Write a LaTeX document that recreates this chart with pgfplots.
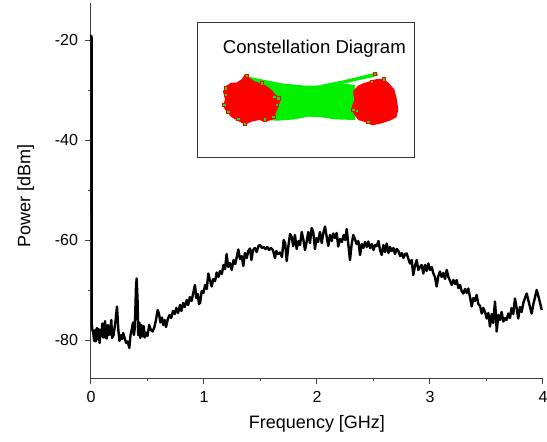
\documentclass[border=0pt]{standalone}
\usepackage{fontspec}
\setmainfont{Liberation Sans}
\usepackage{pgfplots}
\pgfplotsset{compat=1.18}
\definecolor{cgreen}{RGB}{0,240,0}
\definecolor{cred}{RGB}{255,0,0}

\pgfplotstableread{
x y
0.000 -19.0
0.005 -19.5
0.007 -77.0
0.012 -78.0
0.020 -78.5
0.028 -80.2
0.036 -78.0
0.044 -80.3
0.052 -77.6
0.060 -79.8
0.068 -77.8
0.076 -80.6
0.084 -78.0
0.092 -79.2
0.100 -76.7
0.108 -79.5
0.116 -79.3
0.124 -76.2
0.130 -79.5
0.140 -79.7
0.150 -77.0
0.160 -79.0
0.170 -78.0
0.180 -76.0
0.186 -79.6
0.200 -79.0
0.218 -76.0
0.230 -73.3
0.242 -78.0
0.252 -80.2
0.265 -79.0
0.275 -79.8
0.285 -78.6
0.300 -79.8
0.312 -80.6
0.325 -80.3
0.339 -81.6
0.350 -79.0
0.360 -78.0
0.372 -76.5
0.380 -79.0
0.388 -77.5
0.398 -69.5
0.404 -67.7
0.412 -72.0
0.418 -79.0
0.428 -76.5
0.436 -79.6
0.446 -77.0
0.456 -79.3
0.466 -77.2
0.476 -79.5
0.488 -78.5
0.500 -79.2
0.515 -77.0
0.530 -78.0
0.545 -78.3
0.560 -77.5
0.575 -76.0
0.590 -74.0
0.602 -74.8
0.615 -76.5
0.628 -75.5
0.640 -77.0
0.652 -76.0
0.664 -77.4
0.680 -75.8
0.695 -75.0
0.710 -75.6
0.725 -74.2
0.740 -74.8
0.755 -73.6
0.770 -74.6
0.788 -73.0
0.800 -74.2
0.815 -72.6
0.830 -73.4
0.847 -72.0
0.860 -73.0
0.875 -71.4
0.890 -72.2
0.905 -70.6
0.920 -69.0
0.932 -71.6
0.945 -70.8
0.955 -72.8
0.965 -72.6
0.980 -70.2
0.995 -70.6
1.010 -69.0
1.025 -69.8
1.038 -66.7
1.052 -68.0
1.068 -69.3
1.082 -67.8
1.098 -68.2
1.112 -66.5
1.128 -67.4
1.142 -66.2
1.158 -66.8
1.172 -65.0
1.186 -65.8
1.200 -62.8
1.214 -65.4
1.230 -64.6
1.245 -66.0
1.262 -64.0
1.276 -64.8
1.290 -63.4
1.304 -61.9
1.318 -63.8
1.334 -63.2
1.348 -65.2
1.362 -62.6
1.378 -63.6
1.392 -62.2
1.407 -61.7
1.420 -64.0
1.434 -62.0
1.450 -61.6
1.466 -62.4
1.482 -61.2
1.496 -61.0
1.512 -61.6
1.528 -61.4
1.544 -61.8
1.560 -61.4
1.576 -62.0
1.592 -61.6
1.610 -62.0
1.628 -63.6
1.640 -62.2
1.655 -62.8
1.673 -62.5
1.690 -63.4
1.705 -60.0
1.718 -60.6
1.732 -64.2
1.748 -61.0
1.762 -58.8
1.776 -59.4
1.790 -61.2
1.805 -59.0
1.820 -61.8
1.836 -60.2
1.850 -61.0
1.865 -58.4
1.880 -60.0
1.894 -62.0
1.908 -60.4
1.923 -58.4
1.938 -60.6
1.953 -57.6
1.967 -58.4
1.982 -61.8
1.996 -59.6
2.010 -60.4
2.026 -58.4
2.042 -60.6
2.056 -58.6
2.071 -57.3
2.086 -59.4
2.100 -61.2
2.115 -59.0
2.130 -60.2
2.144 -58.7
2.160 -59.6
2.174 -58.6
2.188 -61.3
2.204 -59.8
2.220 -60.4
2.236 -59.0
2.250 -60.0
2.263 -57.8
2.276 -60.6
2.292 -64.0
2.306 -61.0
2.321 -59.0
2.336 -59.8
2.350 -60.8
2.366 -60.2
2.381 -63.0
2.396 -60.8
2.410 -61.6
2.425 -60.4
2.440 -61.4
2.454 -60.3
2.470 -61.6
2.485 -60.8
2.500 -62.0
2.514 -61.0
2.528 -61.2
2.544 -60.2
2.558 -62.0
2.573 -63.0
2.588 -61.0
2.602 -62.4
2.617 -60.7
2.632 -62.6
2.647 -61.4
2.661 -62.2
2.676 -61.6
2.690 -62.8
2.705 -61.8
2.720 -62.2
2.736 -63.2
2.750 -62.6
2.765 -63.6
2.780 -62.8
2.794 -62.7
2.809 -63.8
2.823 -64.7
2.838 -64.0
2.852 -67.0
2.867 -65.2
2.882 -64.0
2.897 -66.0
2.911 -65.4
2.926 -65.0
2.941 -66.7
2.956 -65.0
2.970 -66.2
2.985 -64.7
3.000 -66.0
3.015 -65.4
3.030 -66.7
3.044 -67.4
3.059 -69.3
3.074 -67.2
3.088 -66.3
3.103 -67.4
3.118 -66.6
3.133 -67.8
3.148 -66.0
3.163 -67.4
3.178 -68.2
3.192 -69.0
3.207 -68.0
3.222 -68.8
3.236 -68.0
3.251 -69.6
3.266 -69.0
3.280 -70.2
3.295 -70.7
3.310 -69.8
3.325 -70.6
3.339 -69.7
3.354 -71.4
3.369 -73.3
3.384 -71.6
3.398 -72.2
3.413 -71.0
3.428 -72.8
3.443 -73.2
3.458 -74.7
3.472 -73.6
3.487 -74.4
3.502 -75.7
3.516 -74.6
3.531 -77.3
3.546 -74.8
3.560 -76.6
3.575 -72.3
3.585 -75.4
3.590 -78.3
3.605 -75.0
3.619 -76.0
3.634 -74.4
3.649 -76.3
3.664 -75.6
3.678 -76.0
3.693 -74.7
3.708 -75.6
3.722 -73.6
3.737 -74.8
3.752 -71.7
3.767 -73.6
3.781 -75.7
3.796 -73.4
3.811 -74.4
3.826 -72.6
3.841 -71.6
3.856 -70.7
3.870 -72.0
3.885 -73.4
3.900 -74.7
3.915 -72.8
3.930 -71.4
3.944 -70.0
3.959 -71.2
3.974 -72.6
3.989 -74.0
}\spectrum

\begin{document}
\begin{tikzpicture}
\useasboundingbox (-45.5pt,-31.5pt) rectangle (228pt,189pt);
\begin{axis}[
  scale only axis,
  width=226pt, height=187.5pt,
  xmin=0, xmax=4, ymin=-87.6, ymax=-12.6,
  axis x line*=bottom, axis y line*=left,
  axis line style={black!75, line width=0.5pt},
  xtick={0,1,2,3,4}, minor x tick num=1,
  ytick={-80,-60,-40,-20}, minor y tick num=1,
  tick align=outside,
  major tick length=3pt, minor tick length=1.6pt,
  tick style={black!75, line width=0.5pt},
  ticklabel style={font=\fontsize{8}{9.6}\selectfont},
  /pgf/number format/assume math mode=true,
  xlabel={Frequency [GHz]},
  ylabel={Power [dBm]},
  label style={font=\fontsize{9}{11}\selectfont},
  x label style={at={(axis description cs:0.5,0)}, anchor=center, yshift=-23pt},
  y label style={at={(axis description cs:0,0.485)}, anchor=center, yshift=32.7pt},
  clip=false,
]
\addplot[black, line width=1.2pt, line join=round] table[x=x, y=y] {\spectrum};
\end{axis}

\begin{axis}[
  at={(53pt,110.5pt)}, anchor=south west,
  scale only axis,
  width=108.5pt, height=67.5pt,
  xmin=6, xmax=657, ymin=6, ymax=411,
  y dir=reverse,
  xtick=\empty, ytick=\empty,
  axis line style={black!80, line width=0.5pt},
]
% green band between the two symbol clusters
\addplot[draw=none, fill=cgreen] coordinates {
 (150,168) (200,178) (260,190) (330,197) (400,196) (440,190) (480,195)
 (480,300) (420,298) (380,292) (340,290) (300,298) (250,302) (200,300)} -- cycle;
\addplot[draw=none, fill=cgreen] coordinates {
 (370,196) (450,180) (520,163) (545,157) (550,166) (530,172) (450,190) (400,198)} -- cycle;
% red clusters
\addplot[draw=none, fill=cred] coordinates {
 (150,163) (162,172) (178,184) (200,190) (218,200) (232,212) (245,228) (256,240)
 (250,262) (242,280) (240,296) (222,302) (208,306) (194,300) (172,304) (150,314)
 (128,302) (110,292) (96,278) (84,258) (90,238) (84,214) (93,198) (108,188)
 (124,188) (140,178)} -- cycle;
\addplot[draw=none, fill=cred] coordinates {
 (518,186) (540,178) (566,176) (582,190) (598,208) (606,240) (610,270) (604,292)
 (584,302) (560,310) (532,316) (510,306) (490,300) (476,282) (470,262) (478,240)
 (474,214) (488,198) (504,190)} -- cycle;
% outlying symbols
\addplot[only marks, mark=square*, mark size=0.8pt,
  mark options={draw=cred, fill=cgreen, line width=0.4pt}] coordinates {
 (155,168) (92,205) (92,225) (88,255) (100,275) (130,297) (150,312) (210,298)
 (235,290) (245,255) (250,235) (238,230) (200,190)
 (540,162) (567,178) (530,185) (475,270) (485,272) (520,305)};
\node[font=\fontsize{9.3}{11}\selectfont] at (axis cs:358,85) {Constellation Diagram};
\end{axis}
\end{tikzpicture}
\end{document}
